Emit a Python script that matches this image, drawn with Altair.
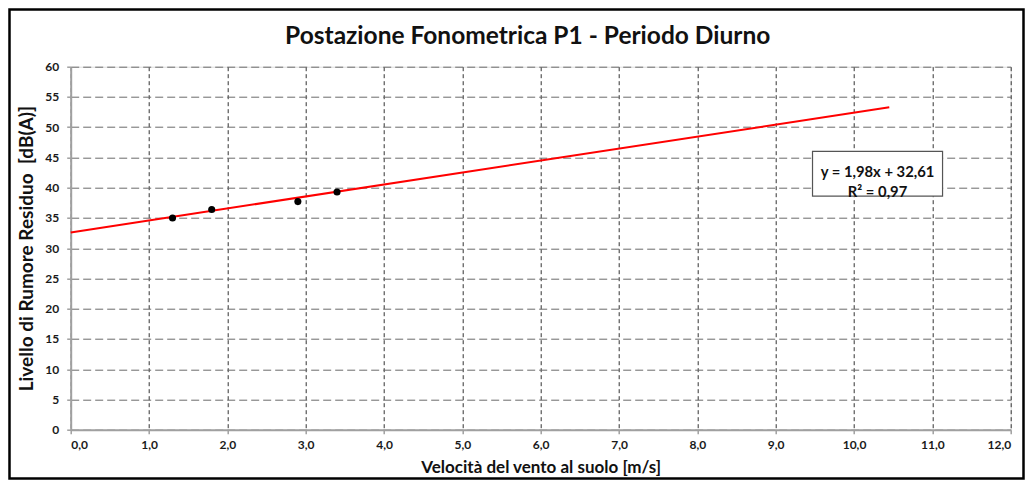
import altair as alt
import pandas as pd

# ---- data ----
wind = [1.3, 1.8, 2.9, 3.4]
level = [35.0, 36.4, 37.7, 39.3]
trend_x = [0.0, 10.45]
trend_y = [32.61, 53.30]
x_ticks = [0, 1, 2, 3, 4, 5, 6, 7, 8, 9, 10, 11, 12]
y_ticks = [0, 5, 10, 15, 20, 25, 30, 35, 40, 45, 50, 55, 60]
eq_lines = ["y = 1,98x + 32,61", "R² = 0,97"]
eq_pos = [10.3, 42.4]          # label centre (data units)
eq_box = [9.47, 11.13, 38.6, 46.0]  # x0, x1, y0, y1 (data units)

title = "Postazione Fonometrica P1 - Periodo Diurno"
x_title = "Velocità del vento al suolo [m/s]"
y_title = "Livello di Rumore Residuo\u00a0\u00a0[dB(A)]"

FONT = "Lato"

pts = pd.DataFrame({"x": wind, "y": level})
trend = pd.DataFrame({"x": trend_x, "y": trend_y})
eq = pd.DataFrame({"x": [eq_pos[0]], "y": [eq_pos[1]], "t": [eq_lines]})
box = pd.DataFrame({"x": [eq_box[0]], "x2": [eq_box[1]], "y": [eq_box[2]], "y2": [eq_box[3]]})
ttl = pd.DataFrame({"t": [title]})

xscale = alt.Scale(domain=[0, 12], nice=False)
yscale = alt.Scale(domain=[0, 60], nice=False)

xaxis = alt.Axis(
    values=x_ticks,
    labelExpr="replace(format(datum.value, '.1f'), '.', ',')",
    title=x_title,
    grid=True, gridDash=[4, 3], gridColor="#333333", gridWidth=1,
    domainColor="#a0a0a0", domainWidth=2,
    tickColor="#a0a0a0", tickSize=4, tickWidth=1.5,
    labelFont=FONT, labelFontSize=12, labelFontWeight="bold", labelColor="#1a1a1a",
    labelPadding=6,
    titleFont=FONT, titleFontSize=17, titleFontWeight="bold", titleColor="#111111",
    titlePadding=9,
)
yaxis = alt.Axis(
    values=y_ticks,
    labelExpr="format(datum.value, 'd')",
    labelOverlap=False,
    title=y_title,
    grid=True, gridDash=[8, 4], gridColor="#6a6a6a", gridWidth=1,
    domainColor="#a0a0a0", domainWidth=2,
    tickColor="#a0a0a0", tickSize=4, tickWidth=1.5,
    labelFont=FONT, labelFontSize=12, labelFontWeight="bold", labelColor="#1a1a1a",
    labelPadding=8,
    titleFont=FONT, titleFontSize=19, titleFontWeight="bold", titleColor="#111111",
    titlePadding=8,
)

W, H = 940, 363
PAD = {"left": 62.7, "top": 58.7, "right": 14.3, "bottom": 50.3}

X = alt.X("x:Q", scale=xscale, axis=xaxis)
Y = alt.Y("y:Q", scale=yscale, axis=yaxis)

frame = alt.Chart(pd.DataFrame({"a": [0]})).mark_rect(
    fill=None, stroke="black", strokeWidth=2.5
).encode(
    x=alt.value(-PAD["left"] + 1.5),
    x2=alt.value(W + PAD["right"] - 1.5),
    y=alt.value(-PAD["top"] + 1.5),
    y2=alt.value(H + PAD["bottom"] - 1.5),
)

title_mark = alt.Chart(ttl).mark_text(
    font=FONT, fontSize=24.5, fontWeight="bold", color="#111111",
    align="center", baseline="middle",
).encode(
    x=alt.value(W / 2 - 13),
    y=alt.value(-29.5),
    text="t:N",
)

line = alt.Chart(trend).mark_line(color="#ff0000", strokeWidth=2).encode(x=X, y=Y)

points = alt.Chart(pts).mark_circle(color="black", size=50, opacity=1).encode(x=X, y=Y)

boxl = alt.Chart(box).mark_rect(fill="white", stroke="#555555", strokeWidth=1.2).encode(
    x=X, x2="x2:Q", y=Y, y2="y2:Q",
)

eqt = alt.Chart(eq).mark_text(
    font=FONT, fontSize=14.8, fontWeight="bold", color="#111111",
    align="center", baseline="middle", lineHeight=20,
).encode(x=X, y=Y, text="t")

chart = alt.layer(line, points, boxl, eqt, frame, title_mark).properties(
    width=W, height=H,
    padding=PAD,
    autosize="none",
).configure_view(
    stroke="black", strokeWidth=1.5
).configure(background="white")

chart.save("out.html", embed_options={"renderer": "svg", "actions": False})
